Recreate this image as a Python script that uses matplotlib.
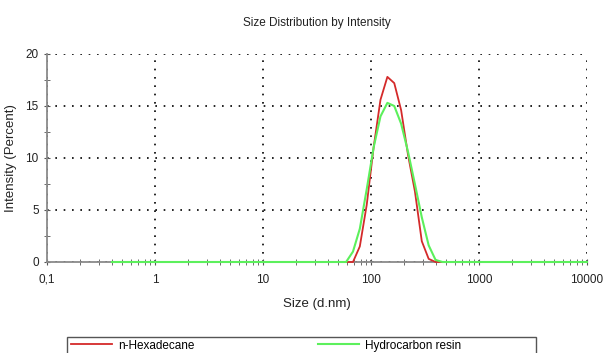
import matplotlib
matplotlib.use('Agg')
import matplotlib.pyplot as plt
from matplotlib.patches import Rectangle
from matplotlib.ticker import FixedLocator, LogLocator, NullFormatter

plt.rcParams['font.family'] = ['Liberation Sans', 'DejaVu Sans']

# size bins (d.nm) and intensity (%)
hexa_size = [0.4, 68.1, 78.8, 91.3, 105.7, 122.4, 141.8, 164.2, 190.1, 220.2, 255.0, 295.3, 342.0, 396.1, 10000]
hexa_int = [0, 0, 1.5, 5.5, 11.0, 15.6, 17.8, 17.2, 14.6, 10.3, 6.8, 2.0, 0.3, 0, 0]

resin_size = [0.4, 58.8, 68.1, 78.8, 91.3, 105.7, 122.4, 141.8, 164.2, 190.1, 220.2, 255.0, 295.3, 342.0, 396.1, 458.7, 10000]
resin_int = [0, 0, 1.0, 3.2, 7.0, 11.0, 14.0, 15.3, 15.0, 13.3, 10.6, 7.5, 4.3, 1.6, 0.2, 0, 0]

x_major = [0.1, 1, 10, 100, 1000, 10000]
x_labels = ['0,1', '1', '10', '100', '1000', '10000']
y_major = [0, 5, 10, 15, 20]

fig = plt.figure(figsize=(6.03, 3.53), dpi=100)
ax = fig.add_axes([47/603, 1 - 262/353, 540/603, 208/353])

ax.plot(hexa_size, hexa_int, color='#d42a2a', lw=1.3, label='n-Hexadecane', zorder=3, clip_on=False)
ax.plot(resin_size, resin_int, color='#5cf05c', lw=1.5, label='Hydrocarbon resin', zorder=3, clip_on=False)

ax.set_xscale('log')
ax.set_xlim(0.1, 10000)
ax.set_ylim(0, 20)
ax.set_xticks(x_major)
ax.set_xticklabels(x_labels)
ax.xaxis.set_minor_locator(LogLocator(base=10, subs=range(2, 10), numticks=20))
ax.xaxis.set_minor_formatter(NullFormatter())
ax.set_yticks(y_major)
ax.yaxis.set_minor_locator(FixedLocator([2.5, 7.5, 12.5, 17.5]))

ax.grid(True, which='major', color='black', linestyle=(0, (1, 4)), linewidth=1.2)
for s in ['top', 'right']:
    ax.spines[s].set_visible(False)
for s in ['left', 'bottom']:
    ax.spines[s].set_color('#8a8a8a')
    ax.spines[s].set_linewidth(1.3)
ax.tick_params(which='both', direction='inout', color='#555555', labelsize=8.5, labelcolor='#222222')
ax.tick_params(which='major', length=5)
ax.tick_params(which='minor', length=4)
ax.tick_params(axis='x', pad=6)

ax.set_title('Size Distribution by Intensity', fontsize=8.5, pad=20, color='#222222')
ax.set_xlabel('Size (d.nm)', fontsize=9.5, color='#222222', labelpad=9)
ax.set_ylabel('Intensity (Percent)', fontsize=9.5, color='#222222', labelpad=6)

# legend box runs off the bottom of the image, like the original
fig.patches.append(Rectangle((67/603, -0.05), 469/603, 0.05 + 1 - 337/353,
                             transform=fig.transFigure, fill=False,
                             edgecolor='#555555', linewidth=1.0))
leg = fig.legend(loc='upper left', bbox_to_anchor=(67/603, 1 - 336/353),
                 ncol=2, fontsize=8.5, frameon=False,
                 borderpad=0.3, handlelength=3.5, handletextpad=0.5,
                 columnspacing=10.5, borderaxespad=0)

fig.savefig('out.png', dpi=100)
